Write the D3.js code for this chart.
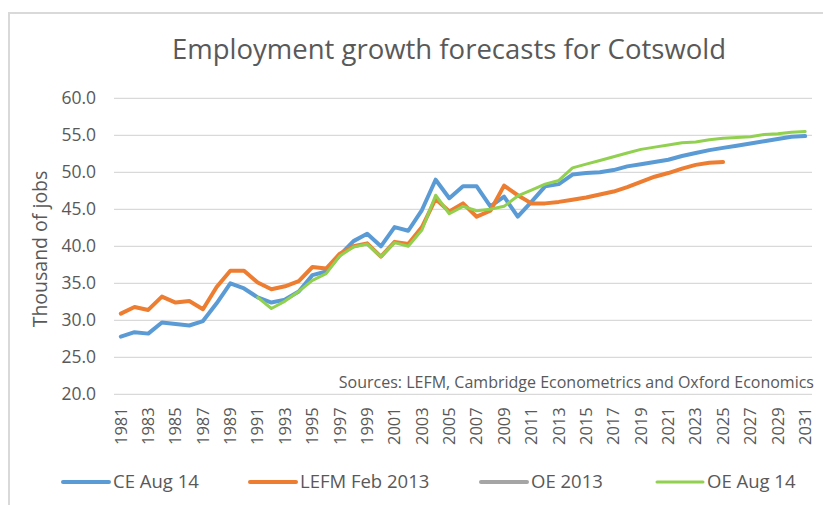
<!DOCTYPE html>
<html>
<head>
<meta charset="utf-8">
<script src="https://cdn.jsdelivr.net/npm/d3@7"></script>
<style>
  html, body { margin: 0; padding: 0; background: #ffffff; }
  svg { display: block; font-family: "Open Sans", "Noto Sans", sans-serif; }
</style>
</head>
<body>
<svg id="chart" width="823" height="505"></svg>
<script>
// Years on the category axis
const years = d3.range(1981, 2032);

// Cambridge Econometrics, August 2014 (thousand jobs)
const ceAug14 = [27.8, 28.4, 28.2, 29.7, 29.5, 29.3, 29.9, 32.3, 35.0, 34.3,
  33.1, 32.4, 32.8, 33.9, 36.1, 36.6, 38.8, 40.7, 41.7, 40.0,
  42.6, 42.1, 44.9, 49.0, 46.5, 48.1, 48.1, 45.4, 46.7, 44.0,
  46.0, 48.1, 48.4, 49.7, 49.9, 50.0, 50.3, 50.8, 51.1, 51.4,
  51.7, 52.2, 52.6, 53.0, 53.3, 53.6, 53.9, 54.2, 54.5, 54.8, 54.9];

// LEFM, February 2013 (runs to 2025)
const lefmFeb2013 = [30.9, 31.8, 31.4, 33.2, 32.4, 32.6, 31.5, 34.5, 36.7, 36.7,
  35.1, 34.2, 34.6, 35.3, 37.2, 37.0, 39.0, 40.0, 40.4, 38.6,
  40.6, 40.3, 42.6, 46.4, 44.7, 45.8, 44.0, 44.8, 48.2, 46.9,
  45.8, 45.8, 46.0, 46.3, 46.6, 47.0, 47.4, 48.0, 48.7, 49.4,
  49.9, 50.5, 51.0, 51.3, 51.4];

// Oxford Economics 2013 (no values plotted)
const oe2013 = [];

// Oxford Economics, August 2014 (starts 1991)
const oeAug14Start = 1991;
const oeAug14 = [33.1, 31.6, 32.6, 33.9, 35.4, 36.3, 38.7, 39.9, 40.3, 38.6,
  40.5, 40.0, 42.2, 46.9, 44.4, 45.4, 44.8, 45.0, 45.4, 46.8,
  47.6, 48.4, 48.9, 50.6, 51.1, 51.6, 52.1, 52.6, 53.1, 53.4,
  53.7, 54.0, 54.1, 54.4, 54.6, 54.7, 54.8, 55.1, 55.2, 55.4, 55.5];

const yTicks = [20, 25, 30, 35, 40, 45, 50, 55, 60];

const seriesList = [
  { name: "CE Aug 14", color: "#5b9bd5", width: 4, start: 1981, values: ceAug14 },
  { name: "LEFM Feb 2013", color: "#ed7d31", width: 4, start: 1981, values: lefmFeb2013 },
  { name: "OE 2013", color: "#a5a5a5", width: 4, start: 1981, values: oe2013 },
  { name: "OE Aug 14", color: "#92d050", width: 3, start: oeAug14Start, values: oeAug14 }
];

const svg = d3.select("#chart");

// chart area frame
svg.append("rect")
  .attr("x", 9).attr("y", 13)
  .attr("width", 830).attr("height", 510)
  .attr("fill", "#ffffff")
  .attr("stroke", "#d9d9d9").attr("stroke-width", 2);

const plot = { left: 114, right: 812, top: 98.3, bottom: 394.3 };

const x = d3.scaleBand()
  .domain(years)
  .range([plot.left, plot.right]);

const y = d3.scaleLinear()
  .domain([20, 60])
  .range([plot.bottom, plot.top]);

// title
svg.append("text")
  .attr("x", 449).attr("y", 59)
  .attr("text-anchor", "middle")
  .attr("fill", "#595959")
  .attr("font-size", 27.5)
  .text("Employment growth forecasts for Cotswold");

// horizontal gridlines
svg.append("g")
  .selectAll("line")
  .data(yTicks)
  .join("line")
  .attr("x1", plot.left).attr("x2", plot.right)
  .attr("y1", d => y(d)).attr("y2", d => y(d))
  .attr("stroke", "#d9d9d9").attr("stroke-width", 1.3);

// y axis labels
const yAxis = d3.axisLeft(y)
  .tickValues(yTicks)
  .tickFormat(d3.format(".1f"))
  .tickSize(0)
  .tickPadding(18);
const yg = svg.append("g")
  .attr("transform", `translate(${plot.left},0)`)
  .call(yAxis);
yg.select(".domain").remove();
yg.selectAll("text")
  .attr("fill", "#595959")
  .attr("font-size", 17.5)
  .attr("font-family", "Open Sans, sans-serif");

// y axis title
svg.append("text")
  .attr("transform", "translate(47,249) rotate(-90)")
  .attr("text-anchor", "middle")
  .attr("fill", "#595959")
  .attr("font-size", 19.5)
  .text("Thousand of jobs");

// x axis labels (every other year)
const xAxis = d3.axisBottom(x)
  .tickValues(years.filter(d => (d - 1981) % 2 === 0))
  .tickSize(0)
  .tickPadding(0);
const xg = svg.append("g")
  .attr("transform", `translate(0,${plot.bottom})`)
  .call(xAxis);
xg.select(".domain").remove();
xg.selectAll("text")
  .attr("fill", "#595959")
  .attr("font-size", 16.5)
  .attr("font-family", "Open Sans, sans-serif")
  .attr("text-anchor", "end")
  .attr("dy", "0.35em")
  .attr("transform", "translate(0,13) rotate(-90)")
  .attr("y", 0).attr("x", 0);

// sources note
svg.append("text")
  .attr("x", 814).attr("y", 388)
  .attr("text-anchor", "end")
  .attr("fill", "#595959")
  .attr("font-size", 16)
  .text("Sources: LEFM, Cambridge Econometrics and Oxford Economics");

// series lines
const line = d3.line()
  .x(d => x(d.year) + x.bandwidth() / 2)
  .y(d => y(d.value));

const lines = svg.append("g").attr("fill", "none");
seriesList.forEach(s => {
  const pts = s.values.map((v, i) => ({ year: s.start + i, value: v }));
  lines.append("path")
    .datum(pts)
    .attr("d", line)
    .attr("stroke", s.color)
    .attr("stroke-width", s.width)
    .attr("stroke-linejoin", "round")
    .attr("stroke-linecap", "round");
});

// legend
const legendX = [63, 250, 481, 657];
const legend = svg.append("g");
seriesList.forEach((s, i) => {
  const g = legend.append("g").attr("transform", `translate(${legendX[i]},482)`);
  g.append("line")
    .attr("x1", 0).attr("x2", 46)
    .attr("stroke", s.color)
    .attr("stroke-width", s.width)
    .attr("stroke-linecap", "round");
  g.append("text")
    .attr("x", 50).attr("y", 0)
    .attr("dy", "0.35em")
    .attr("fill", "#595959")
    .attr("font-size", 18.5)
    .text(s.name);
});
</script>
</body>
</html>
